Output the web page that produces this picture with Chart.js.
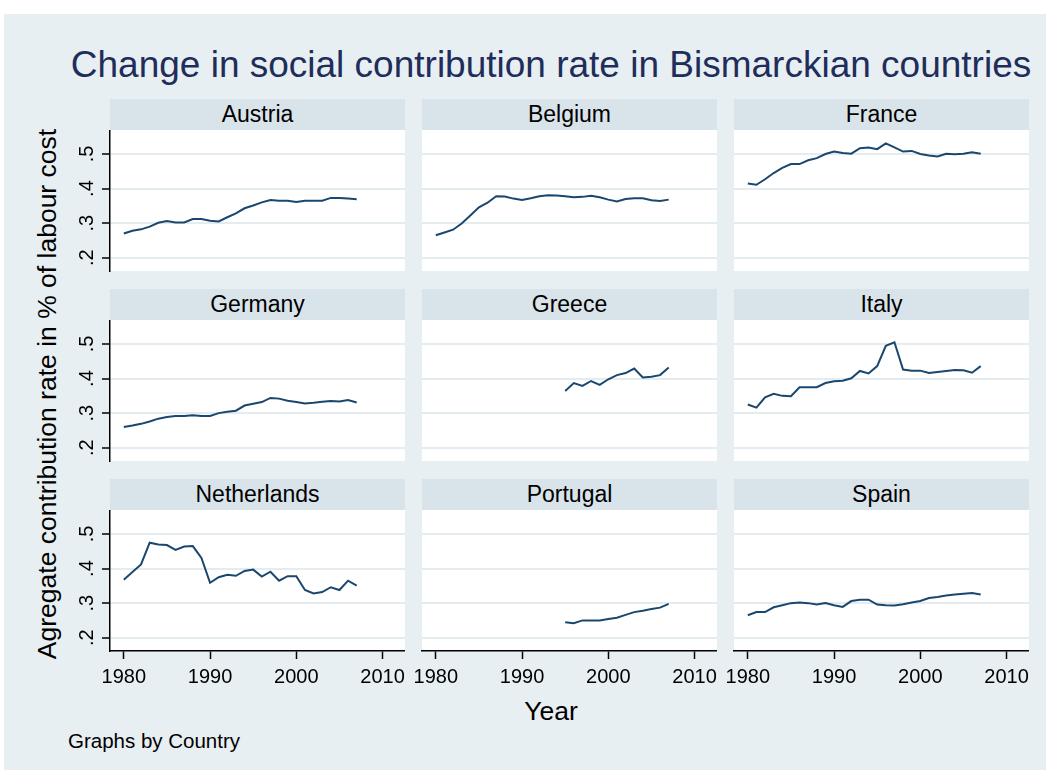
<!DOCTYPE html>
<html>
<head>
<meta charset="utf-8">
<script src="https://cdn.jsdelivr.net/npm/chart.js@4.4.1/dist/chart.umd.min.js"></script>
<style>
  body { margin: 0; background: #fff; font-family: "Liberation Sans", Arial, sans-serif; }
  #frame { position: absolute; left: 4px; top: 14px; width: 1042px; height: 756px; background: #e8eff2; }
  .hdr { position: absolute; width: 295px; height: 31px; line-height: 31px; background: #d9e4ea;
         font-size: 23px; text-align: center; color: #000; }
  .txt { position: absolute; white-space: nowrap; text-align: center; }
  canvas { position: absolute; }
</style>
</head>
<body>
<div id="frame"></div>
<div class="txt" style="left:51px; top:45px; width:1000px; font-size:37px; line-height:40px; color:#1f2d5a;">Change in social contribution rate in Bismarckian countries</div>
<div class="txt" style="left:-253px; top:379px; width:600px; height:30px; font-size:26.5px; line-height:30px; transform:rotate(-90deg);">Agregate contribution rate in % of labour cost</div>
<div class="txt" style="left:451px; top:696px; width:200px; font-size:26.5px; line-height:30px;">Year</div>
<div class="txt" style="left:68px; top:729px; font-size:20.5px; line-height:24px; text-align:left;">Graphs by Country</div>
<div id="panels"></div>

<script>
// data
var years = [1980, 1981, 1982, 1983, 1984, 1985, 1986, 1987, 1988, 1989,
             1990, 1991, 1992, 1993, 1994, 1995, 1996, 1997, 1998, 1999,
             2000, 2001, 2002, 2003, 2004, 2005, 2006, 2007];

var countries = ["Austria", "Belgium", "France", "Germany", "Greece", "Italy",
                 "Netherlands", "Portugal", "Spain"];

var austria = [0.270, 0.278, 0.282, 0.290, 0.301, 0.306, 0.302, 0.302, 0.312, 0.312,
               0.307, 0.305, 0.317, 0.328, 0.343, 0.351, 0.360, 0.367, 0.365, 0.365,
               0.361, 0.365, 0.365, 0.365, 0.373, 0.373, 0.371, 0.369];
var belgium = [0.265, 0.273, 0.281, 0.299, 0.322, 0.346, 0.359, 0.378, 0.377, 0.371,
               0.367, 0.372, 0.378, 0.381, 0.380, 0.378, 0.375, 0.376, 0.379, 0.375,
               0.368, 0.363, 0.370, 0.372, 0.372, 0.366, 0.364, 0.368];
var france = [0.415, 0.411, 0.427, 0.445, 0.460, 0.471, 0.471, 0.482, 0.488, 0.500,
              0.507, 0.503, 0.501, 0.517, 0.519, 0.514, 0.531, 0.519, 0.507, 0.509,
              0.500, 0.496, 0.493, 0.501, 0.499, 0.501, 0.505, 0.501];
var germany = [0.260, 0.264, 0.269, 0.276, 0.284, 0.289, 0.292, 0.292, 0.294, 0.292,
               0.292, 0.300, 0.304, 0.307, 0.322, 0.327, 0.332, 0.344, 0.342, 0.336,
               0.332, 0.328, 0.330, 0.333, 0.335, 0.334, 0.338, 0.331];
var greece = [null, null, null, null, null, null, null, null, null, null,
              null, null, null, null, null, 0.364, 0.387, 0.379, 0.393, 0.382,
              0.398, 0.410, 0.416, 0.429, 0.403, 0.405, 0.410, 0.432];
var italy = [0.325, 0.316, 0.346, 0.356, 0.350, 0.349, 0.375, 0.375, 0.375, 0.387,
             0.392, 0.394, 0.401, 0.422, 0.415, 0.436, 0.495, 0.505, 0.426, 0.423,
             0.423, 0.416, 0.419, 0.422, 0.425, 0.424, 0.417, 0.436];
var netherlands = [0.368, 0.390, 0.412, 0.475, 0.470, 0.468, 0.454, 0.464, 0.465, 0.431,
                   0.359, 0.375, 0.382, 0.379, 0.393, 0.397, 0.377, 0.391, 0.365, 0.378,
                   0.378, 0.338, 0.328, 0.332, 0.346, 0.338, 0.365, 0.351];
var portugal = [null, null, null, null, null, null, null, null, null, null,
                null, null, null, null, null, 0.245, 0.242, 0.250, 0.250, 0.250,
                0.254, 0.258, 0.266, 0.274, 0.278, 0.283, 0.287, 0.298];
var spain = [0.265, 0.274, 0.274, 0.288, 0.294, 0.300, 0.302, 0.300, 0.296, 0.300,
             0.294, 0.289, 0.306, 0.310, 0.310, 0.296, 0.294, 0.293, 0.297, 0.302,
             0.306, 0.315, 0.318, 0.322, 0.325, 0.327, 0.329, 0.325];

var series = [austria, belgium, france, germany, greece, italy, netherlands, portugal, spain];

var xTicks = [1980, 1990, 2000, 2010];
var yTicks = [0.2, 0.3, 0.4, 0.5];
var yTickLabels = [".2", ".3", ".4", ".5"];

var FONT = "'Liberation Sans', Arial, sans-serif";
var L = 50, B = 50;          // room kept for the axes
var PW = 295, PH = 141;      // plot area size

// white plot region
var plotBg = {
  id: 'plotBg',
  beforeDraw: function (chart) {
    var a = chart.chartArea, c = chart.ctx;
    c.save();
    c.fillStyle = '#fff';
    c.fillRect(a.left, a.top, a.right - a.left, a.bottom - a.top);
    c.restore();
  }
};

function noPad(s) {
  s.paddingTop = 0; s.paddingBottom = 0;
  s.paddingLeft = 0; s.paddingRight = 0;
}

var holder = document.getElementById('panels');

countries.forEach(function (name, i) {
  var col = i % 3, row = Math.floor(i / 3);
  var px = 110 + 312 * col;
  var py = 130 + 190 * row;
  var leftAxis = col === 0;
  var bottomAxis = row === 2;

  var hdr = document.createElement('div');
  hdr.className = 'hdr';
  hdr.style.left = px + 'px';
  hdr.style.top = (py - 31) + 'px';
  hdr.textContent = name;
  holder.appendChild(hdr);

  var cv = document.createElement('canvas');
  cv.width = PW + L;
  cv.height = PH + B;
  cv.style.left = (px - L) + 'px';
  cv.style.top = py + 'px';
  holder.appendChild(cv);

  var pts = [];
  series[i].forEach(function (v, k) {
    if (v !== null) pts.push({ x: years[k], y: v });
  });

  new Chart(cv.getContext('2d'), {
    type: 'line',
    data: {
      datasets: [{
        data: pts,
        borderColor: '#1a476f',
        borderWidth: 2,
        pointRadius: 0,
        tension: 0,
        fill: false
      }]
    },
    options: {
      responsive: false,
      animation: false,
      events: [],
      layout: { padding: 0 },
      plugins: {
        legend: { display: false },
        tooltip: { enabled: false }
      },
      scales: {
        x: {
          type: 'linear',
          min: 1978.4,
          max: 2012.6,
          afterBuildTicks: function (s) { s.ticks = xTicks.map(function (v) { return { value: v }; }); },
          afterFit: function (s) { s.height = B; noPad(s); },
          grid: {
            drawOnChartArea: false,
            drawTicks: bottomAxis,
            tickLength: 8,
            tickColor: '#000',
            tickWidth: 1.5
          },
          border: { display: bottomAxis, color: '#000', width: 1.5 },
          ticks: {
            display: bottomAxis,
            autoSkip: false,
            maxRotation: 0,
            padding: 6,
            color: '#000',
            font: { family: FONT, size: 20 },
            callback: function (v) { return String(v); }
          }
        },
        y: {
          type: 'linear',
          min: 0.1615,
          max: 0.5695,
          afterBuildTicks: function (s) { s.ticks = yTicks.map(function (v) { return { value: v }; }); },
          afterFit: function (s) { s.width = L; noPad(s); },
          grid: {
            color: '#e4ecef',
            lineWidth: 2,
            drawTicks: leftAxis,
            tickLength: 8,
            tickColor: '#000',
            tickWidth: 1.5
          },
          border: { display: leftAxis, color: '#000', width: 1.5 },
          ticks: {
            display: leftAxis,
            minRotation: 90,
            maxRotation: 90,
            crossAlign: 'center',
            padding: 6,
            color: '#000',
            font: { family: FONT, size: 20 },
            callback: function (v) { return yTickLabels[yTicks.indexOf(v)]; }
          }
        }
      }
    },
    plugins: [plotBg]
  });
});
</script>
</body>
</html>
